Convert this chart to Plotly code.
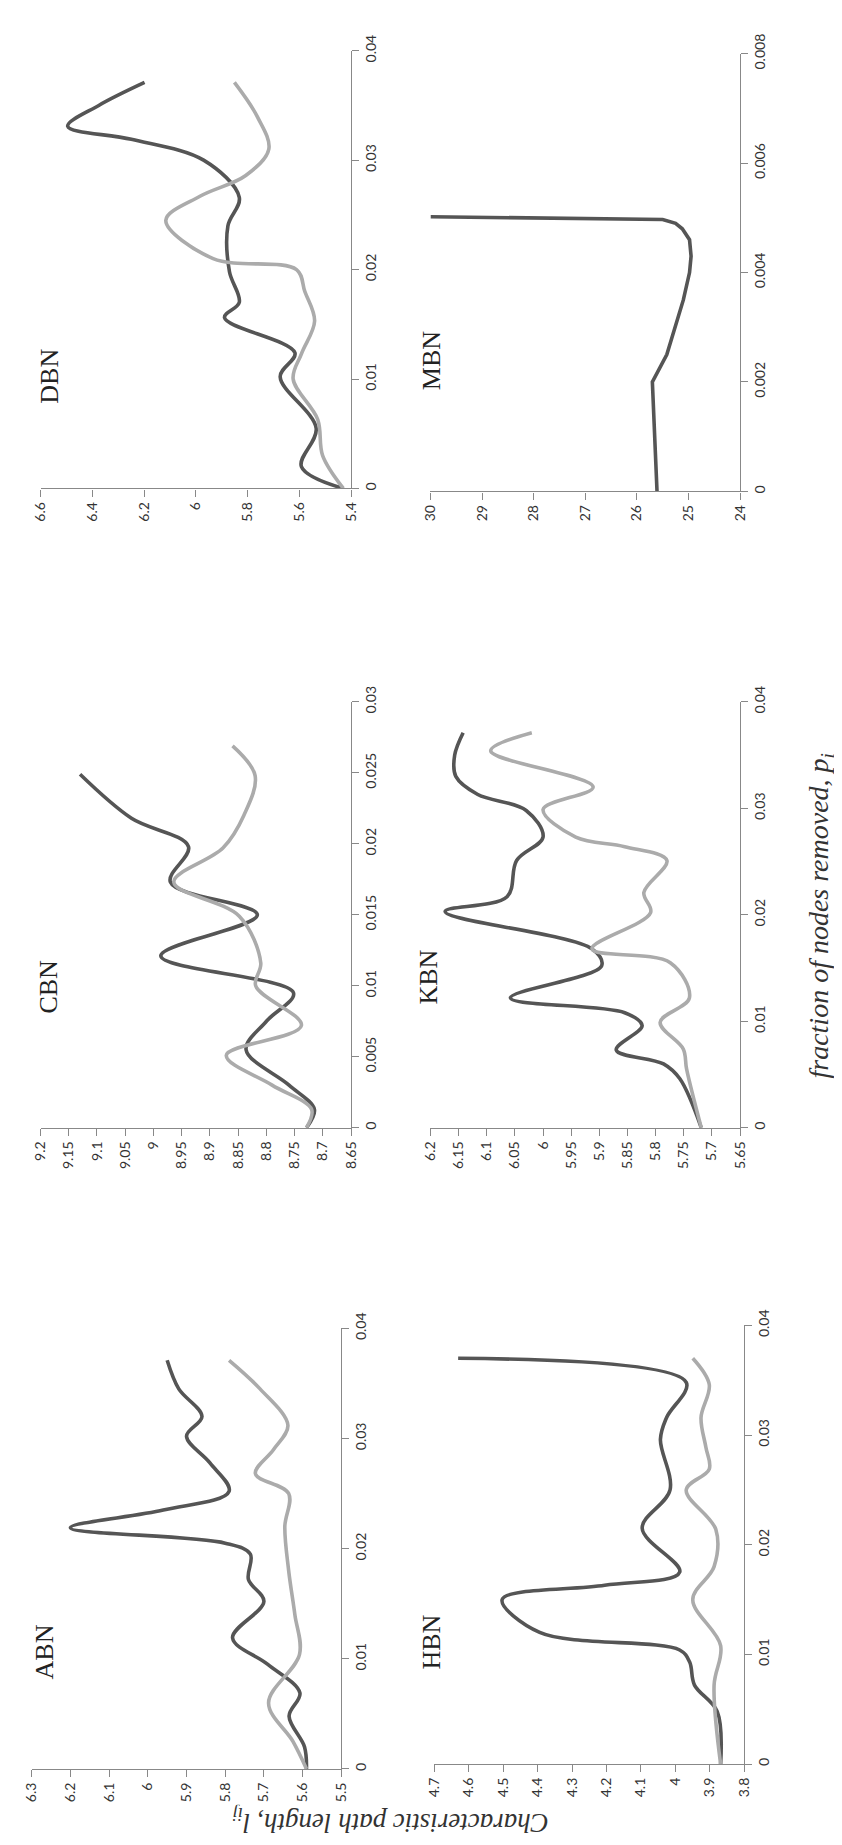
import plotly.graph_objects as go

W, H = 842, 1845

# ---------------- data (fraction removed p_i, path length l_ij) ----------------
abn_f_dark = [0, 0.0020, 0.0048, 0.0069, 0.0095, 0.0119, 0.0152, 0.0172, 0.0195, 0.0205, 0.0219, 0.0235, 0.0252, 0.0278, 0.0302, 0.0320, 0.0345, 0.0371]
abn_v_dark = [5.59, 5.595, 5.635, 5.607, 5.69, 5.781, 5.70, 5.74, 5.735, 5.80, 6.20, 5.96, 5.79, 5.84, 5.90, 5.86, 5.92, 5.95]
abn_f_light = [0, 0.0025, 0.0060, 0.0104, 0.0140, 0.0180, 0.0220, 0.0250, 0.0268, 0.0290, 0.0312, 0.0345, 0.0371]
abn_v_light = [5.59, 5.625, 5.688, 5.608, 5.62, 5.636, 5.646, 5.636, 5.722, 5.675, 5.638, 5.71, 5.79]

cbn_f_dark = [0, 0.0013, 0.0030, 0.0055, 0.0075, 0.0095, 0.0121, 0.0150, 0.0173, 0.0198, 0.0218, 0.0249]
cbn_v_dark = [8.729, 8.715, 8.76, 8.836, 8.80, 8.752, 8.987, 8.816, 8.97, 8.938, 9.039, 9.13]
cbn_f_light = [0, 0.0013, 0.0030, 0.0051, 0.0072, 0.0100, 0.0116, 0.0149, 0.0173, 0.0197, 0.0220, 0.0248, 0.0269]
cbn_v_light = [8.729, 8.72, 8.79, 8.871, 8.738, 8.819, 8.81, 8.848, 8.964, 8.877, 8.84, 8.82, 8.86]

dbn_f_dark = [0, 0.0020, 0.0055, 0.0102, 0.0124, 0.0156, 0.0170, 0.0198, 0.0240, 0.0266, 0.0300, 0.0319, 0.0331, 0.0350, 0.0371]
dbn_v_dark = [5.43, 5.592, 5.535, 5.674, 5.617, 5.889, 5.832, 5.87, 5.876, 5.832, 5.97, 6.249, 6.495, 6.375, 6.198]
dbn_f_light = [0, 0.0030, 0.0063, 0.0100, 0.0123, 0.0153, 0.0180, 0.0200, 0.0210, 0.0245, 0.0267, 0.0286, 0.0310, 0.0340, 0.0371]
dbn_v_light = [5.43, 5.51, 5.529, 5.624, 5.592, 5.541, 5.579, 5.611, 5.933, 6.116, 5.984, 5.807, 5.718, 5.763, 5.851]

hbn_f_dark = [0, 0.0048, 0.0072, 0.0093, 0.0104, 0.0120, 0.0150, 0.0163, 0.0175, 0.0215, 0.0250, 0.0296, 0.0316, 0.0348, 0.0370]
hbn_v_dark = [3.868, 3.878, 3.944, 3.958, 3.987, 4.394, 4.503, 4.205, 3.987, 4.096, 4.015, 4.043, 4.025, 3.968, 4.631]
hbn_f_light = [0, 0.0072, 0.0108, 0.0150, 0.0180, 0.0214, 0.0250, 0.0269, 0.0289, 0.0316, 0.0346, 0.0370]
hbn_v_light = [3.868, 3.887, 3.868, 3.949, 3.887, 3.882, 3.968, 3.901, 3.911, 3.925, 3.901, 3.949]

kbn_f_dark = [0, 0.0046, 0.0060, 0.0073, 0.0096, 0.0108, 0.0122, 0.0152, 0.0168, 0.0203, 0.0217, 0.0251, 0.0273, 0.0298, 0.0313, 0.0330, 0.0350, 0.0371]
kbn_v_dark = [5.719, 5.757, 5.786, 5.87, 5.824, 5.855, 6.058, 5.896, 5.913, 6.174, 6.064, 6.047, 6.0, 6.03, 6.116, 6.155, 6.157, 6.142]
kbn_f_light = [0, 0.0055, 0.0074, 0.0099, 0.0122, 0.0155, 0.0168, 0.0202, 0.0221, 0.0251, 0.0264, 0.0273, 0.0299, 0.0320, 0.0354, 0.0371]
kbn_v_light = [5.719, 5.745, 5.751, 5.792, 5.74, 5.774, 5.913, 5.809, 5.821, 5.78, 5.855, 5.942, 6.0, 5.911, 6.093, 6.02]

mbn_f_dark = [0, 0.0020, 0.0025, 0.0030, 0.0035, 0.0040, 0.0043, 0.0046, 0.0048, 0.0049, 0.00497, 0.00502]
mbn_v_dark = [25.61, 25.70, 25.42, 25.26, 25.10, 24.98, 24.95, 24.98, 25.12, 25.25, 25.50, 30.0]

# tick labels
abn_vticks = ["6.3", "6.2", "6.1", "6", "5.9", "5.8", "5.7", "5.6", "5.5"]
cbn_vticks = ["9.2", "9.15", "9.1", "9.05", "9", "8.95", "8.9", "8.85", "8.8", "8.75", "8.7", "8.65"]
dbn_vticks = ["6.6", "6.4", "6.2", "6", "5.8", "5.6", "5.4"]
hbn_vticks = ["4.7", "4.6", "4.5", "4.4", "4.3", "4.2", "4.1", "4", "3.9", "3.8"]
kbn_vticks = ["6.2", "6.15", "6.1", "6.05", "6", "5.95", "5.9", "5.85", "5.8", "5.75", "5.7", "5.65"]
mbn_vticks = ["30", "29", "28", "27", "26", "25", "24"]
ftick_04 = ["0", "0.01", "0.02", "0.03", "0.04"]
ftick_03 = ["0", "0.005", "0.01", "0.015", "0.02", "0.025", "0.03"]
ftick_008 = ["0", "0.002", "0.004", "0.006", "0.008"]

panel_names = ["ABN", "CBN", "DBN", "HBN", "KBN", "MBN"]
x_title = "fraction of nodes removed, p<sub>i</sub>"
y_title = "Characteristic path length, l<sub>ij</sub>"

DARK = "#555555"
LIGHT = "#ababab"

# ---------------- panel layout (pixel boxes of rotated panels) ----------------
panels = [
    ("ABN", [(abn_f_dark, abn_v_dark, DARK), (abn_f_light, abn_v_light, LIGHT)], abn_vticks, ftick_04, (15, 331, 1316, 1762), (28, 1643)),
    ("CBN", [(cbn_f_dark, cbn_v_dark, DARK), (cbn_f_light, cbn_v_light, LIGHT)], cbn_vticks, ftick_03, (24, 341, 682, 1113), (33, 970)),
    ("DBN", [(dbn_f_dark, dbn_v_dark, DARK), (dbn_f_light, dbn_v_light, LIGHT)], dbn_vticks, ftick_04, (24, 341, 23, 466), (33, 352)),
    ("HBN", [(hbn_f_dark, hbn_v_dark, DARK), (hbn_f_light, hbn_v_light, LIGHT)], hbn_vticks, ftick_04, (426, 742, 1313, 1757), (423, 1633)),
    ("KBN", [(kbn_f_dark, kbn_v_dark, DARK), (kbn_f_light, kbn_v_light, LIGHT)], kbn_vticks, ftick_04, (422, 738, 682, 1113), (420, 961)),
    ("MBN", [(mbn_f_dark, mbn_v_dark, DARK)], mbn_vticks, ftick_008, (422, 738, 26, 469), (423, 336)),
]

fig = go.Figure()
tickfont = dict(family="Lato, Open Sans, sans-serif", size=14, color="#333333")
annotations = []

for i, (name, series, vt, ft, box, lab) in enumerate(panels):
    k = "" if i == 0 else str(i + 1)
    xa, ya = "x" + k, "y" + k
    x0, x1, yt, yb = box
    vvals = [float(s) for s in vt]
    fvals = [float(s) for s in ft]
    for f, v, c in series:
        shape = "linear" if name == "MBN" else "spline"
        fig.add_trace(go.Scatter(x=v, y=f, mode="lines", xaxis=xa, yaxis=ya,
                                 line=dict(color=c, width=3.6, shape=shape, smoothing=1.0),
                                 showlegend=False, hoverinfo="skip"))
    fig.layout["xaxis" + k] = dict(
        domain=[x0 / W, x1 / W], anchor=ya, range=[max(vvals), min(vvals)],
        tickvals=vvals, ticktext=vt, tickangle=-90, ticks="outside", ticklen=7,
        tickcolor="#888888", showline=True, linecolor="#888888", linewidth=1.2,
        showgrid=False, zeroline=False, tickfont=tickfont, side="bottom",
        fixedrange=True)
    fig.layout["yaxis" + k] = dict(
        domain=[1 - yb / H, 1 - yt / H], anchor=xa, range=[0, max(fvals)],
        tickvals=fvals, ticktext=ft, tickangle=-90, ticks="outside", ticklen=7,
        tickcolor="#888888", showline=True, linecolor="#888888", linewidth=1.2,
        showgrid=False, zeroline=False, tickfont=tickfont, side="right",
        fixedrange=True)
    annotations.append(dict(x=lab[0] / W, y=1 - lab[1] / H, xref="paper", yref="paper",
                            text=name, showarrow=False, textangle=-90,
                            width=80, height=30, align="center", valign="middle",
                            font=dict(family="Liberation Serif, Times New Roman, serif", size=26, color="#222222"),
                            xanchor="center", yanchor="middle"))

annotations.append(dict(x=820 / W, y=1 - 898 / H, xref="paper", yref="paper",
                        text="<i>" + x_title + "</i>", showarrow=False, textangle=-90,
                        width=420, height=34, align="center", valign="middle",
                        font=dict(family="Liberation Serif, serif", size=28, color="#333333"),
                        xanchor="center", yanchor="middle"))
annotations.append(dict(x=381 / W, y=1 - 1814 / H, xref="paper", yref="paper",
                        text="<i>" + y_title + "</i>", showarrow=False, textangle=180,
                        width=420, height=32, align="center", valign="middle",
                        font=dict(family="Liberation Serif, serif", size=27, color="#333333"),
                        xanchor="center", yanchor="middle"))

fig.update_layout(width=W, height=H, margin=dict(l=0, r=0, t=0, b=0),
                  paper_bgcolor="white", plot_bgcolor="white",
                  annotations=annotations, showlegend=False)

fig.write_html("out.html")
